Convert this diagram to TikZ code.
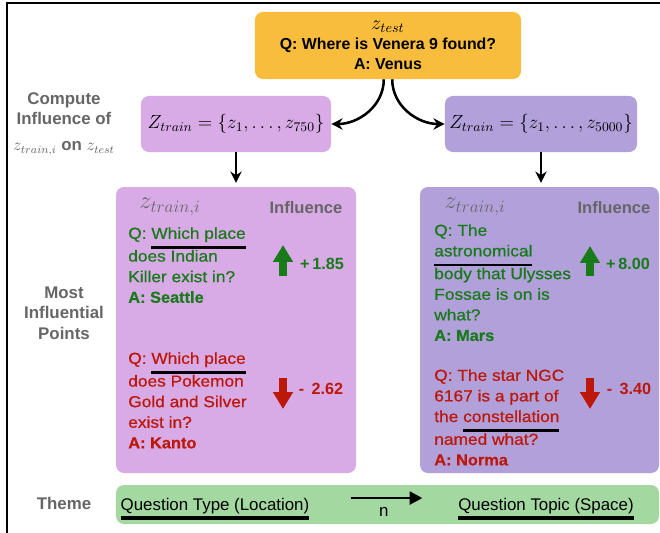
\RequirePackage{fix-cm}
\documentclass[tikz,border=0pt]{standalone}
\usepackage[no-math]{fontspec}
\setmainfont{Liberation Sans}
\newfontfamily\qfont[FakeStretch=1.09,FakeBold=0.7]{Liberation Sans}
\newfontfamily\afont[FakeStretch=1.03,FakeBold=0.4]{Liberation Sans}
\usetikzlibrary{arrows.meta,fit}
\definecolor{testorange}{RGB}{248,189,60}
\definecolor{trainlight}{RGB}{216,170,230}
\definecolor{traindark}{RGB}{178,160,219}
\definecolor{themegreen}{RGB}{163,216,160}
\definecolor{posgreen}{RGB}{24,122,24}
\definecolor{negred}{RGB}{188,24,10}
\definecolor{labelgray}{RGB}{102,102,102}
% thick black underline for key words
\newcommand{\qul}[1]{\setbox0\hbox{#1}\rlap{\textcolor{black}{\rule[-7pt]{\wd0}{1.7pt}}}\box0}
\newcommand{\tul}[1]{\setbox0\hbox{#1}\rlap{\textcolor{black}{\rule[-6.8pt]{\wd0}{2.2pt}}}\box0}
\newcommand{\ans}[1]{{\afont\bfseries #1}}
\tikzset{
    box/.style={rounded corners=0.2cm, inner sep=0pt},
    sidelabel/.style={text=labelgray, align=center, font=\bfseries\fontsize{12}{14.5}\selectfont},
    qtext/.style={anchor=north west, inner sep=0pt, align=left, font=\qfont\fontsize{11.3}{14.65}\selectfont},
    zhead/.style={text=labelgray, font=\fontsize{17.5}{18}\selectfont},
    inflhead/.style={text=labelgray, font=\bfseries\fontsize{11.8}{14}\selectfont},
    value/.style={font=\bfseries\fontsize{11.5}{14}\selectfont},
    themetext/.style={anchor=base, font=\fontsize{12}{14}\selectfont},
    fatarrow/.style={line width=5pt, -{Triangle[width=13.5pt,length=12pt]}},
    flow/.style={line width=1.8pt, -{Stealth[length=8pt,width=8pt]}}
}

\begin{document}
\begin{tikzpicture}[x=0.025cm,y=-0.025cm]
    \useasboundingbox (0,0) rectangle (660,533);
    % Frame
    \draw[line width=1.4pt] (7,533) |- (660,3);
    % Test point and training sets
    \node[box, fill=testorange, minimum width=6.65cm, minimum height=1.675cm, align=center,
        font=\bfseries\fontsize{11.3}{14.2}\selectfont] (test) at (388,45.5)
        {{\fontsize{14}{14}\selectfont$z_{test}$}\\Q: Where is Venera 9 found?\\A: Venus};
    \node[box, fill=trainlight, minimum width=4.75cm, minimum height=1.4cm,
        font=\fontsize{13.5}{16}\selectfont] (trainA) at (236,124) {$Z_{train}=\{z_1,\ldots,z_{750}\}$};
    \node[box, fill=traindark, minimum width=4.8cm, minimum height=1.4cm,
        font=\fontsize{13.5}{16}\selectfont] (trainB) at (541,124) {$Z_{train}=\{z_1,\ldots,z_{5000}\}$};
    \draw[flow] ([xshift=-3pt]test.south) to[out=-90,in=0] (trainA.east);
    \draw[flow] ([xshift=3pt]test.south) to[out=-90,in=180] (trainB.west);
    % Influential points
    \node[box, fill=trainlight, fit={(116,187) (356,473)}] (inflA) {};
    \node[box, fill=traindark, fit={(420,187) (659,473)}] (inflB) {};
    \draw[flow, line width=1.4pt, shorten >=2.8pt] (trainA.south) -- (trainA.south |- inflA.north);
    \draw[flow, line width=1.4pt, shorten >=2.8pt] (trainB.south) -- (trainB.south |- inflB.north);
    \node[zhead] (ziA) at (170,207) {$z_{train,i}$};
    \node[inflhead] (infA) at (306,208) {Influence};
    \node[zhead] (ziB) at (475,207) {$z_{train,i}$};
    \node[inflhead] (infB) at (614,208) {Influence};
    % Left examples
    \node[qtext, text=posgreen] (posA) at (128,227) {Q: \qul{Which place}\\does Indian\\Killer exist in?\\\ans{A: Seattle}};
    \node[qtext, text=negred] (negA) at (128,352) {Q: \qul{Which place}\\does Pokemon\\Gold and Silver\\exist in?\\\ans{A: Kanto}};
    \draw[fatarrow, posgreen] (283,276) -- (283,245);
    \draw[fatarrow, negred] (283,378) -- (283,409);
    \node[value, text=posgreen] (valposA) at (322,264) {+\,1.85};
    \node[value, text=negred] (valnegA) at (321,389) {-\, 2.62};
    % Right examples
    \node[qtext, text=posgreen] (posB) at (434,224) {Q: The\\\qul{astronomical}\\body that Ulysses\\Fossae is on is\\what?\\\ans{A: Mars}};
    \node[qtext, text=negred] (negB) at (434,369) {Q: The star NGC\\6167 is a part of\\the \qul{constellation}\\named what?\\\ans{A: Norma}};
    \draw[fatarrow, posgreen] (590,276) -- (590,246);
    \draw[fatarrow, negred] (590,378) -- (590,409);
    \node[value, text=posgreen] (valposB) at (628,264) {+\,8.00};
    \node[value, text=negred] (valnegB) at (629,389) {-\, 3.40};
    % Side labels
    \node[sidelabel] (compute) at (64,124) {Compute\\Influence of\\[4pt]$z_{train,i}$ on $z_{test}$};
    \node[sidelabel] (most) at (64,313) {Most\\Influential\\Points};
    \node[sidelabel] (themelabel) at (64,503) {Theme};
    % Theme
    \node[box, fill=themegreen, fit={(116,485) (659,524)}] (theme) {};
    \node[themetext] (qtype) at (215,510) {\tul{Question Type (Location)}};
    \node[themetext] (qtopic) at (546,510) {\tul{Question Topic (Space)}};
    \draw[line width=2pt, -{Triangle[length=9pt,width=9pt]}, shorten <=26pt, shorten >=22pt] ([yshift=8.5pt]qtype.base east) -- node[below=2pt, font=\fontsize{12}{14}\selectfont] (ntag) {n} ([yshift=8.5pt]qtopic.base west);
\end{tikzpicture}
\end{document}
